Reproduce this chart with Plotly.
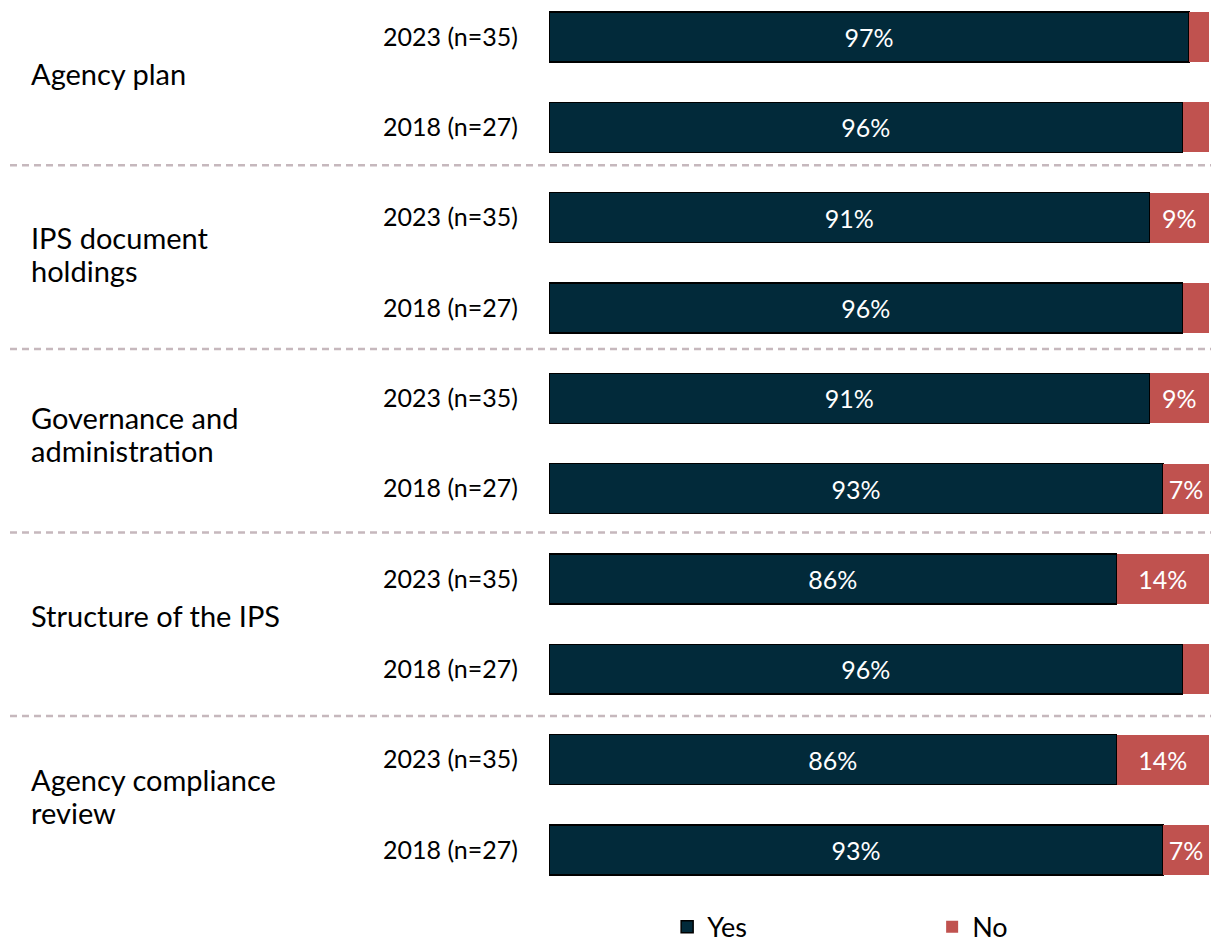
import plotly.graph_objects as go

# Survey items, each answered in two survey years
groups = ["Agency plan", "IPS document<br>holdings", "Governance and<br>administration",
          "Structure of the IPS", "Agency compliance<br>review"]
years = ["2023 (n=35)", "2018 (n=27)"]

# Share of agencies answering Yes / No, per group: [2023, 2018]
yes_values = [[97, 96], [91, 96], [91, 93], [86, 96], [86, 93]]
no_values = [[3, 4], [9, 4], [9, 7], [14, 4], [14, 7]]

YES_COLOR = "#022a3a"
NO_COLOR = "#c0524f"
FONT = "Lato"
LINE_HEIGHT = 33  # px between wrapped lines of a group name
SEP_START, SEP_STEP = 1.42, 2.033  # separator placement in row units

rows_y, row_labels, yes_flat, no_flat = [], [], [], []
for gi, g in enumerate(groups):
    for yi, yr in enumerate(years):
        rows_y.append(gi * len(years) + yi)
        row_labels.append(yr)
        yes_flat.append(yes_values[gi][yi])
        no_flat.append(no_values[gi][yi])


def pct_labels(vals, min_shown=5):
    return [f"{v}%" if v >= min_shown else "" for v in vals]


fig = go.Figure()
fig.add_trace(go.Bar(
    name="Yes", orientation="h", y=rows_y, x=yes_flat,
    marker=dict(color=YES_COLOR, line=dict(color="#000000", width=1.5)),
    text=pct_labels(yes_flat), textposition="inside", insidetextanchor="middle",
    textfont=dict(color="white", size=25, family=FONT),
    hoverinfo="skip",
))
fig.add_trace(go.Bar(
    name="No", orientation="h", y=rows_y, x=no_flat,
    marker=dict(color=NO_COLOR, line=dict(width=0)),
    text=pct_labels(no_flat), textposition="inside", insidetextanchor="middle",
    textfont=dict(color="white", size=25, family=FONT),
    hoverinfo="skip",
))

# Group names on the far left, centred (slightly raised) on each pair of bars
for gi, g in enumerate(groups):
    center = gi * len(years) + (len(years) - 1) / 2
    lines = g.split("<br>")
    n = len(lines)
    for li, line in enumerate(lines):
        offset = ((n - 1) / 2 - li) * LINE_HEIGHT + 9
        fig.add_annotation(
            x=0, xref="paper", xshift=-520, xanchor="left",
            y=center, yref="y", yshift=offset, text=line, showarrow=False,
            font=dict(size=29, color="#000000", family=FONT),
        )

# Dashed separators between groups
for k in range(len(groups) - 1):
    sep = SEP_START + SEP_STEP * k
    fig.add_shape(
        type="line", xref="paper", yref="y",
        x0=-539 / 660, x1=1.01, y0=sep, y1=sep,
        line=dict(color="#c6b8bd", width=2.5, dash="7px,5px"),
    )

fig.update_layout(
    width=1211, height=944,
    margin=dict(l=549, r=2, t=0, b=49, autoexpand=False),
    barmode="stack", bargap=0.447,
    plot_bgcolor="white", paper_bgcolor="white",
    showlegend=True,
    legend=dict(
        orientation="h", x=0.179, xanchor="left", y=-0.036, yanchor="middle",
        font=dict(size=27, color="#000000", family=FONT),
        entrywidth=220, traceorder="normal",
    ),
    xaxis=dict(range=[0, 100], visible=False, fixedrange=True),
    yaxis=dict(
        range=[9.5, -0.41], tickmode="array", tickvals=rows_y, ticktext=row_labels,
        showgrid=False, zeroline=False, showline=False, ticks="",
        ticklabelstandoff=30,
        tickfont=dict(size=25, color="#000000", family=FONT),
    ),
    font=dict(family=FONT),
)

fig.write_html("out.html")
